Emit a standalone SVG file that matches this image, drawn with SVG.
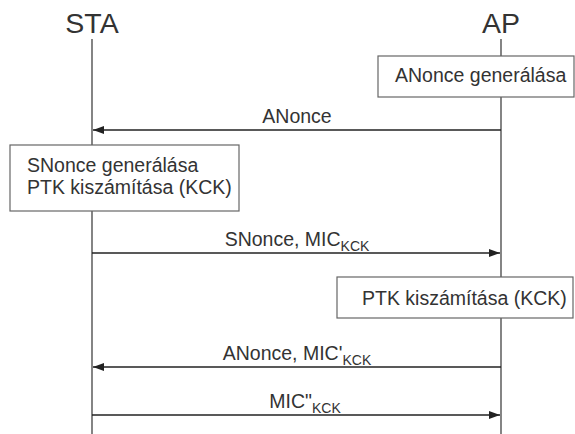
<svg xmlns="http://www.w3.org/2000/svg" width="575" height="434" viewBox="0 0 575 434">
<style>
text{font-family:"Liberation Sans",Arial,sans-serif;fill:#333;}
.hd{font-size:28.5px;text-anchor:middle;}
.t{font-size:19.5px;}
.lbl{font-size:19.5px;text-anchor:middle;}
.sub{font-size:14px;}
.life{stroke:#666;stroke-width:1.6;fill:none;}
.box{fill:#fff;stroke:#666;stroke-width:1.2;}
.msg{stroke:#222;stroke-width:1.3;fill:none;}
</style>
<defs>
<marker id="ah" markerWidth="12" markerHeight="8" refX="11" refY="4" orient="auto" markerUnits="userSpaceOnUse">
<path d="M0,0 L11,4 L0,8 Z" fill="#222"/>
</marker>
</defs>
<g id="sta">
<text class="hd" x="92" y="33">STA</text>
<line class="life" x1="92" y1="39" x2="92" y2="434"/>
</g>
<g id="ap">
<text class="hd" x="501" y="33">AP</text>
<line class="life" x1="501" y1="39" x2="501" y2="434"/>
</g>
<g id="anonce-gen">
<rect class="box" x="378" y="56" width="196" height="41"/>
<text class="t" x="395" y="82">ANonce generálása</text>
</g>
<g id="sta-calc">
<rect class="box" x="10" y="145" width="229" height="66"/>
<text class="t" x="27" y="172">SNonce generálása</text>
<text class="t" x="27" y="194">PTK kiszámítása (KCK)</text>
</g>
<g id="ap-calc">
<rect class="box" x="337" y="277" width="236" height="41"/>
<text class="t" x="362" y="305">PTK kiszámítása (KCK)</text>
</g>
<g id="connectors">
<line class="msg" x1="501" y1="130" x2="93" y2="130" marker-end="url(#ah)"/>
<text class="lbl" x="297" y="123">ANonce</text>
<line class="msg" x1="92" y1="253" x2="500" y2="253" marker-end="url(#ah)"/>
<text class="lbl" x="297" y="246">SNonce, MIC<tspan class="sub" dy="5">KCK</tspan></text>
<line class="msg" x1="501" y1="367" x2="93" y2="367" marker-end="url(#ah)"/>
<text class="lbl" x="297" y="360">ANonce, MIC'<tspan class="sub" dy="5">KCK</tspan></text>
<line class="msg" x1="92" y1="415" x2="500" y2="415" marker-end="url(#ah)"/>
<text class="lbl" x="305" y="408">MIC"<tspan class="sub" dy="5">KCK</tspan></text>
</g>
</svg>
